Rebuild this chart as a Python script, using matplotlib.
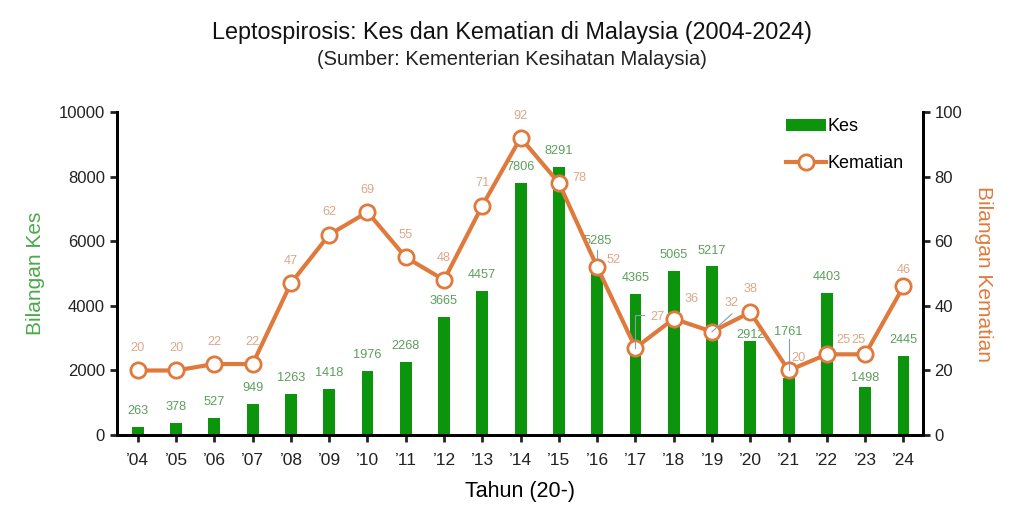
import numpy as np
import matplotlib
matplotlib.use("Agg")
import matplotlib.pyplot as plt

plt.rcParams['font.family'] = ['Liberation Sans', 'DejaVu Sans']

years = ['\u201904', '\u201905', '\u201906', '\u201907', '\u201908', '\u201909', '\u201910',
         '\u201911', '\u201912', '\u201913', '\u201914', '\u201915', '\u201916', '\u201917',
         '\u201918', '\u201919', '\u201920', '\u201921', '\u201922', '\u201923', '\u201924']
kes = [263, 378, 527, 949, 1263, 1418, 1976, 2268, 3665, 4457, 7806,
       8291, 5285, 4365, 5065, 5217, 2912, 1761, 4403, 1498, 2445]
kematian = [20, 20, 22, 22, 47, 62, 69, 55, 48, 71, 92,
            78, 52, 27, 36, 32, 38, 20, 25, 25, 46]

green = '#0c940c'
orange = '#e07a3c'
green_lbl = '#5c9e5c'
orange_lbl = '#dca88a'
lead = '#8a9aab'

x = np.arange(len(years))

fig = plt.figure(figsize=(10.24, 5.18), dpi=100)
ax = fig.add_axes([0.114, 0.160, 0.787, 0.624])
ax2 = ax.twinx()

bars = ax.bar(x, kes, width=0.31, color=green, label='Kes', zorder=2)
line, = ax2.plot(x, kematian, color=orange, lw=3, marker='o', ms=11,
                 mfc='white', mec=orange, mew=2, label='Kematian', zorder=3)

ax.set_xlim(-0.55, 20.5)
ax.set_ylim(0, 10000)
ax2.set_ylim(0, 100)
ax.set_yticks(np.arange(0, 10001, 2000))
ax2.set_yticks(np.arange(0, 101, 20))
ax.set_xticks(x)
ax.set_xticklabels(years)

for a in (ax, ax2):
    a.spines['top'].set_visible(False)
    for s in ('left', 'right', 'bottom'):
        a.spines[s].set_linewidth(2)
        a.spines[s].set_color('black')
    a.tick_params(direction='out', length=5, width=2, labelsize=12, colors='#222222')
ax.tick_params(axis='x', pad=8, labelsize=12.5)

ax.set_ylabel('Bilangan Kes', color='#4aa84a', fontsize=15, labelpad=10)
ax2.set_ylabel('Bilangan Kematian', color=orange, fontsize=15, rotation=270, labelpad=22)
ax.set_xlabel('Tahun (20-)', fontsize=15.5, labelpad=9)

fig.text(0.5, 0.937, 'Leptospirosis: Kes dan Kematian di Malaysia (2004-2024)',
         ha='center', va='center', fontsize=16.8, color='#111111')
fig.text(0.5, 0.886, '(Sumber: Kementerian Kesihatan Malaysia)',
         ha='center', va='center', fontsize=14.5, color='#222222')

# label offsets in points (dx, dy) from the mark
kes_off = {12: (0, 17), 16: (0, 4), 17: (0, 33), 19: (0, 6.5)}
mat_off = {11: (14.5, 3.6), 12: (12, 5), 13: (16, 22), 14: (13, 14), 15: (14, 21),
           16: (0, 17), 17: (7, 9), 18: (12, 10), 19: (-5, 10), 20: (0, 11.5)}

for i, v in enumerate(kes):
    dx, dy = kes_off.get(i, (0, 11.5))
    ax.annotate(str(v), (i, v), xytext=(dx, dy), textcoords='offset points',
                ha='center', va='center', fontsize=9.2, color=green_lbl, zorder=5)
for i, v in enumerate(kematian):
    dx, dy = mat_off.get(i, (0, 16))
    ax2.annotate(str(v), (i, v), xytext=(dx, dy), textcoords='offset points',
                 ha='center', va='center', fontsize=9.2, color=orange_lbl, zorder=5)

# leader lines
ax2.plot([12, 12], [kematian[12] + 2.2, kematian[12] + 5.4], color=lead, lw=0.8, zorder=4)
ax2.plot([13, 13, 13.23], [kematian[13], 37.2, 37.2], color=lead, lw=0.8, zorder=4)
ax2.plot([15, 15.52], [kematian[15], 37.5], color=lead, lw=0.8, zorder=4)
ax2.plot([17, 17], [kematian[17], 29.8], color=lead, lw=0.8, zorder=4)

handles = [bars, line]
ax.legend(handles, ['Kes', 'Kematian'], loc='upper right', bbox_to_anchor=(0.997, 1.03),
          frameon=False, fontsize=13, handlelength=2.2, handletextpad=0.1,
          labelspacing=1.1)

fig.savefig('out.png', dpi=100)
